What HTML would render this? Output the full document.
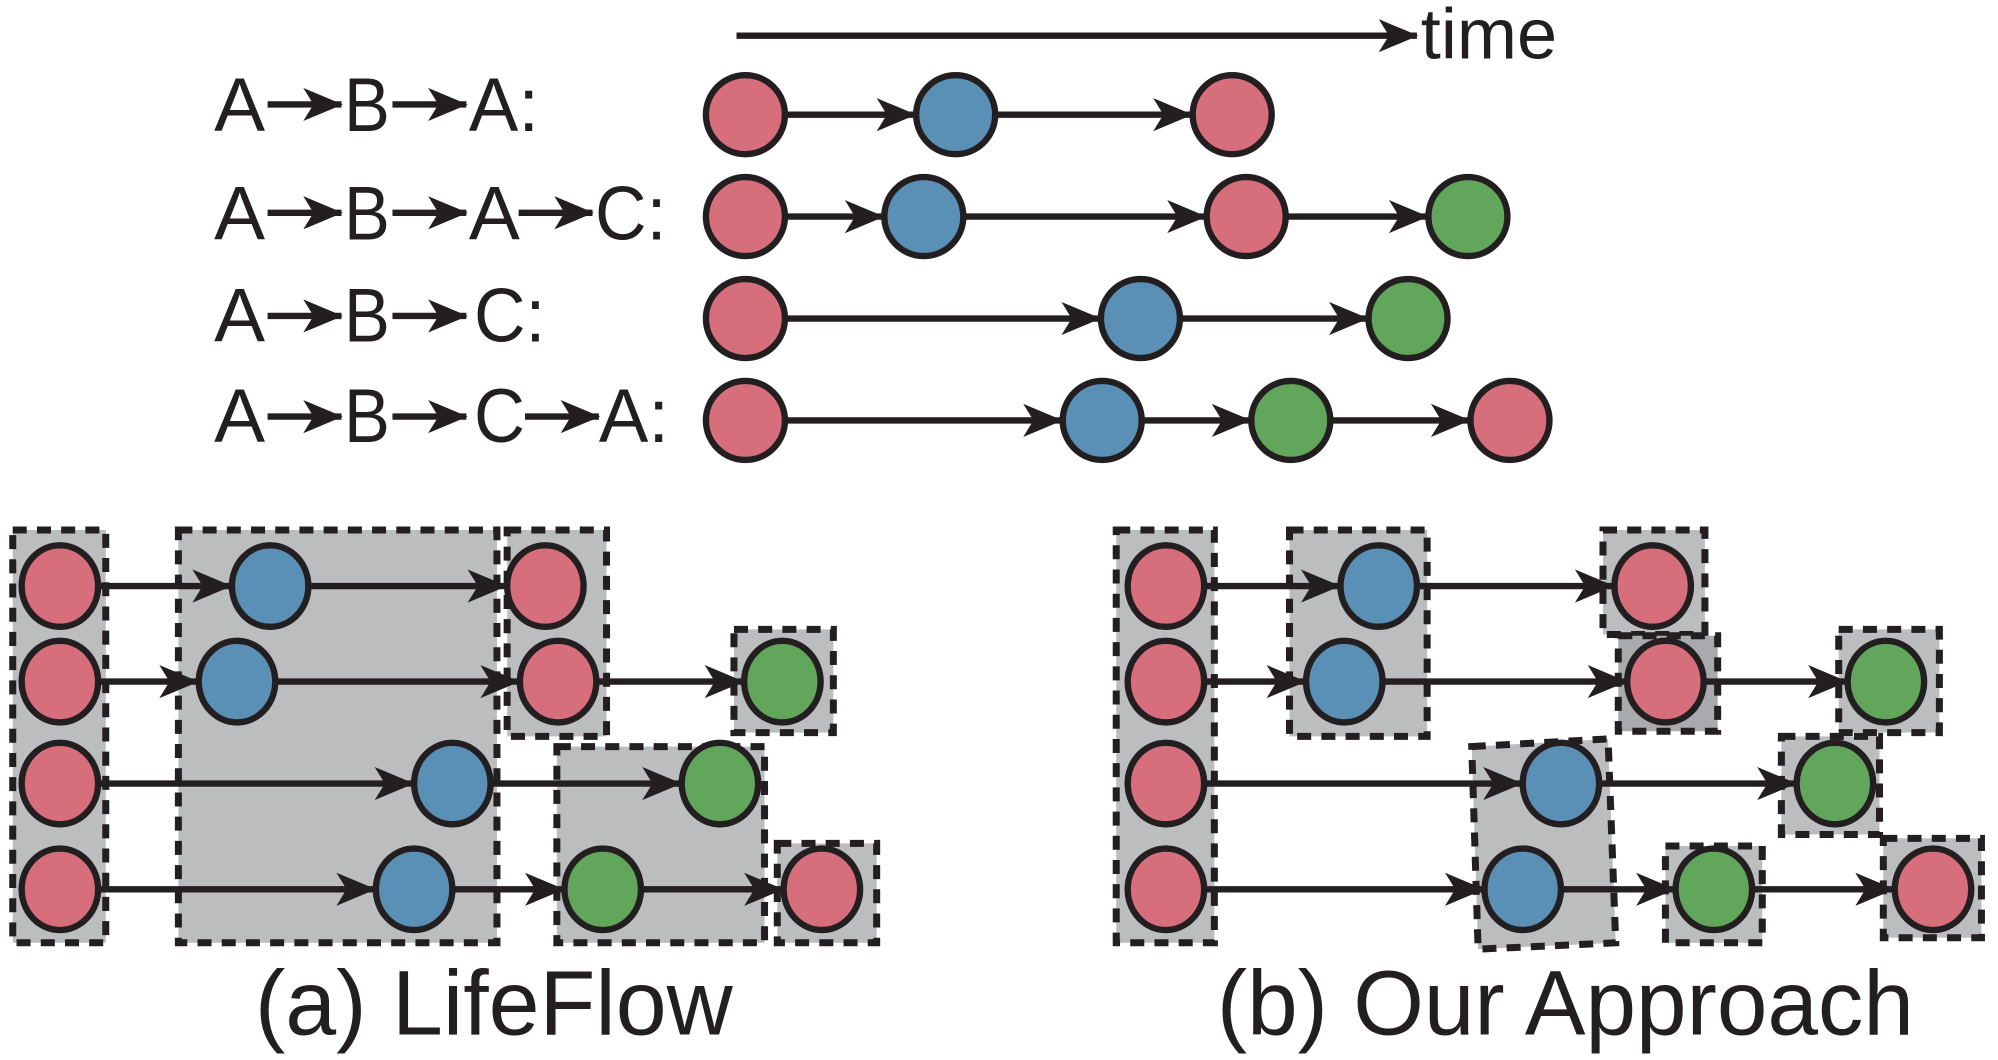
<!DOCTYPE html>
<html><head><meta charset="utf-8"><style>
html,body{margin:0;padding:0;background:#fff;}
svg{display:block;}
text{font-family:"Liberation Sans",sans-serif;fill:#231f20;}
</style></head><body>
<svg width="1998" height="1060" viewBox="0 0 1568 832" preserveAspectRatio="none" xmlns="http://www.w3.org/2000/svg">
<defs>
<marker id="ah" markerUnits="userSpaceOnUse" markerWidth="34" markerHeight="28" refX="30" refY="13" orient="auto">
<path d="M0,0 L31,13 L0,26 L8,13 Z" fill="#231f20"/>
</marker>
</defs>
<g stroke="#231f20" stroke-width="5" fill="none" marker-end="url(#ah)">
<line x1="578" y1="28" x2="1112" y2="28"/>
<line x1="616" y1="90" x2="718" y2="90"/>
<line x1="782" y1="90" x2="935" y2="90"/>
<line x1="616" y1="170" x2="693" y2="170"/>
<line x1="757" y1="170" x2="946" y2="170"/>
<line x1="1010" y1="170" x2="1120" y2="170"/>
<line x1="616" y1="250" x2="863" y2="250"/>
<line x1="927" y1="250" x2="1073" y2="250"/>
<line x1="616" y1="330" x2="833" y2="330"/>
<line x1="897" y1="330" x2="981" y2="330"/>
<line x1="1045" y1="330" x2="1153" y2="330"/>
<line x1="210" y1="82" x2="268" y2="82"/>
<line x1="308" y1="82" x2="366" y2="82"/>
<line x1="210" y1="167" x2="268" y2="167"/>
<line x1="308" y1="167" x2="366" y2="167"/>
<line x1="407" y1="167" x2="465" y2="167"/>
<line x1="210" y1="248" x2="268" y2="248"/>
<line x1="308" y1="248" x2="366" y2="248"/>
<line x1="210" y1="327" x2="268" y2="327"/>
<line x1="308" y1="327" x2="366" y2="327"/>
<line x1="412" y1="327" x2="470" y2="327"/>
</g>
<g font-size="60">
<text x="168" y="103" textLength="40" lengthAdjust="spacingAndGlyphs">A</text><text x="270" y="103" textLength="36" lengthAdjust="spacingAndGlyphs">B</text><text x="368" y="103" textLength="55" lengthAdjust="spacingAndGlyphs">A:</text>
<text x="168" y="188" textLength="40" lengthAdjust="spacingAndGlyphs">A</text><text x="270" y="188" textLength="36" lengthAdjust="spacingAndGlyphs">B</text><text x="368" y="188" textLength="40" lengthAdjust="spacingAndGlyphs">A</text><text x="467" y="188" textLength="56" lengthAdjust="spacingAndGlyphs">C:</text>
<text x="168" y="268" textLength="40" lengthAdjust="spacingAndGlyphs">A</text><text x="270" y="268" textLength="36" lengthAdjust="spacingAndGlyphs">B</text><text x="372" y="268" textLength="56" lengthAdjust="spacingAndGlyphs">C:</text>
<text x="168" y="347" textLength="40" lengthAdjust="spacingAndGlyphs">A</text><text x="270" y="347" textLength="36" lengthAdjust="spacingAndGlyphs">B</text><text x="372" y="347" textLength="40" lengthAdjust="spacingAndGlyphs">C</text><text x="470" y="347" textLength="55" lengthAdjust="spacingAndGlyphs">A:</text>
<text x="1115" y="46" font-size="56" textLength="107" lengthAdjust="spacingAndGlyphs">time</text>
</g>
<g stroke="#231f20" stroke-width="5">
<circle cx="585" cy="90" r="31" fill="#d66e7b"/><circle cx="750" cy="90" r="31" fill="#5a8fb6"/><circle cx="967" cy="90" r="31" fill="#d66e7b"/>
<circle cx="585" cy="170" r="31" fill="#d66e7b"/><circle cx="725" cy="170" r="31" fill="#5a8fb6"/><circle cx="978" cy="170" r="31" fill="#d66e7b"/><circle cx="1152" cy="170" r="31" fill="#62a65c"/>
<circle cx="585" cy="250" r="31" fill="#d66e7b"/><circle cx="895" cy="250" r="31" fill="#5a8fb6"/><circle cx="1105" cy="250" r="31" fill="#62a65c"/>
<circle cx="585" cy="330" r="31" fill="#d66e7b"/><circle cx="865" cy="330" r="31" fill="#5a8fb6"/><circle cx="1013" cy="330" r="31" fill="#62a65c"/><circle cx="1185" cy="330" r="31" fill="#d66e7b"/>
</g>
<g fill="#bcbdbf" stroke="#231f20" stroke-width="5.5" stroke-dasharray="11 8">
<rect x="10" y="416" width="73" height="324"/>
<rect x="140" y="416" width="250" height="324"/>
<rect x="398" y="416" width="78" height="162"/>
<rect x="576" y="494" width="78" height="81"/>
<rect x="437" y="586" width="163" height="154"/>
<rect x="610" y="662" width="78" height="78"/>
</g>
<g fill="#bcbdbf" stroke="#231f20" stroke-width="5.5" stroke-dasharray="11 8">
<rect x="876" y="416" width="77" height="324"/>
<rect x="1012" y="416" width="108" height="162"/>
<rect x="1258" y="416" width="80" height="82"/>
<rect x="1270" y="499" width="78" height="75" fill="#a9aaad"/>
<rect x="1443" y="494" width="79" height="81"/>
<polygon points="1155,586 1262,580 1268,740 1160,745"/>
<rect x="1398" y="578" width="77" height="77"/>
<rect x="1307" y="664" width="76" height="76"/>
<rect x="1478" y="658" width="77" height="78"/>
</g>
<g stroke="#231f20" stroke-width="5" fill="none" marker-end="url(#ah)">
<line x1="78" y1="460" x2="181" y2="460"/><line x1="243" y1="460" x2="397" y2="460"/>
<line x1="78" y1="535" x2="155" y2="535"/><line x1="217" y1="535" x2="407" y2="535"/><line x1="469" y1="535" x2="583" y2="535"/>
<line x1="78" y1="615" x2="324" y2="615"/><line x1="386" y1="615" x2="534" y2="615"/>
<line x1="78" y1="698" x2="294" y2="698"/><line x1="356" y1="698" x2="442" y2="698"/><line x1="504" y1="698" x2="614" y2="698"/>
<line x1="946" y1="460" x2="1051" y2="460"/><line x1="1113" y1="460" x2="1266" y2="460"/>
<line x1="946" y1="535" x2="1024" y2="535"/><line x1="1086" y1="535" x2="1276" y2="535"/><line x1="1338" y1="535" x2="1449" y2="535"/>
<line x1="946" y1="615" x2="1194" y2="615"/><line x1="1256" y1="615" x2="1409" y2="615"/>
<line x1="946" y1="698" x2="1164" y2="698"/><line x1="1226" y1="698" x2="1314" y2="698"/><line x1="1376" y1="698" x2="1486" y2="698"/>
</g>
<g stroke="#231f20" stroke-width="5">
<ellipse cx="47" cy="460" rx="30" ry="32" fill="#d66e7b"/><ellipse cx="47" cy="535" rx="30" ry="32" fill="#d66e7b"/><ellipse cx="47" cy="615" rx="30" ry="32" fill="#d66e7b"/><ellipse cx="47" cy="698" rx="30" ry="32" fill="#d66e7b"/>
<ellipse cx="212" cy="460" rx="30" ry="32" fill="#5a8fb6"/><ellipse cx="428" cy="460" rx="30" ry="32" fill="#d66e7b"/>
<ellipse cx="186" cy="535" rx="30" ry="32" fill="#5a8fb6"/><ellipse cx="438" cy="535" rx="30" ry="32" fill="#d66e7b"/><ellipse cx="614" cy="535" rx="30" ry="32" fill="#62a65c"/>
<ellipse cx="355" cy="615" rx="30" ry="32" fill="#5a8fb6"/><ellipse cx="565" cy="615" rx="30" ry="32" fill="#62a65c"/>
<ellipse cx="325" cy="698" rx="30" ry="32" fill="#5a8fb6"/><ellipse cx="473" cy="698" rx="30" ry="32" fill="#62a65c"/><ellipse cx="645" cy="698" rx="30" ry="32" fill="#d66e7b"/>
<ellipse cx="915" cy="460" rx="30" ry="32" fill="#d66e7b"/><ellipse cx="915" cy="535" rx="30" ry="32" fill="#d66e7b"/><ellipse cx="915" cy="615" rx="30" ry="32" fill="#d66e7b"/><ellipse cx="915" cy="698" rx="30" ry="32" fill="#d66e7b"/>
<ellipse cx="1082" cy="460" rx="30" ry="32" fill="#5a8fb6"/><ellipse cx="1297" cy="460" rx="30" ry="32" fill="#d66e7b"/>
<ellipse cx="1055" cy="535" rx="30" ry="32" fill="#5a8fb6"/><ellipse cx="1307" cy="535" rx="30" ry="32" fill="#d66e7b"/><ellipse cx="1480" cy="535" rx="30" ry="32" fill="#62a65c"/>
<ellipse cx="1225" cy="615" rx="30" ry="32" fill="#5a8fb6"/><ellipse cx="1440" cy="615" rx="30" ry="32" fill="#62a65c"/>
<ellipse cx="1195" cy="698" rx="30" ry="32" fill="#5a8fb6"/><ellipse cx="1345" cy="698" rx="30" ry="32" fill="#62a65c"/><ellipse cx="1517" cy="698" rx="30" ry="32" fill="#d66e7b"/>
</g>
<text x="200" y="812" font-size="72" textLength="375" lengthAdjust="spacingAndGlyphs">(a) LifeFlow</text>
<text x="955" y="812" font-size="72" textLength="547" lengthAdjust="spacingAndGlyphs">(b) Our Approach</text>
</svg>
</body></html>
